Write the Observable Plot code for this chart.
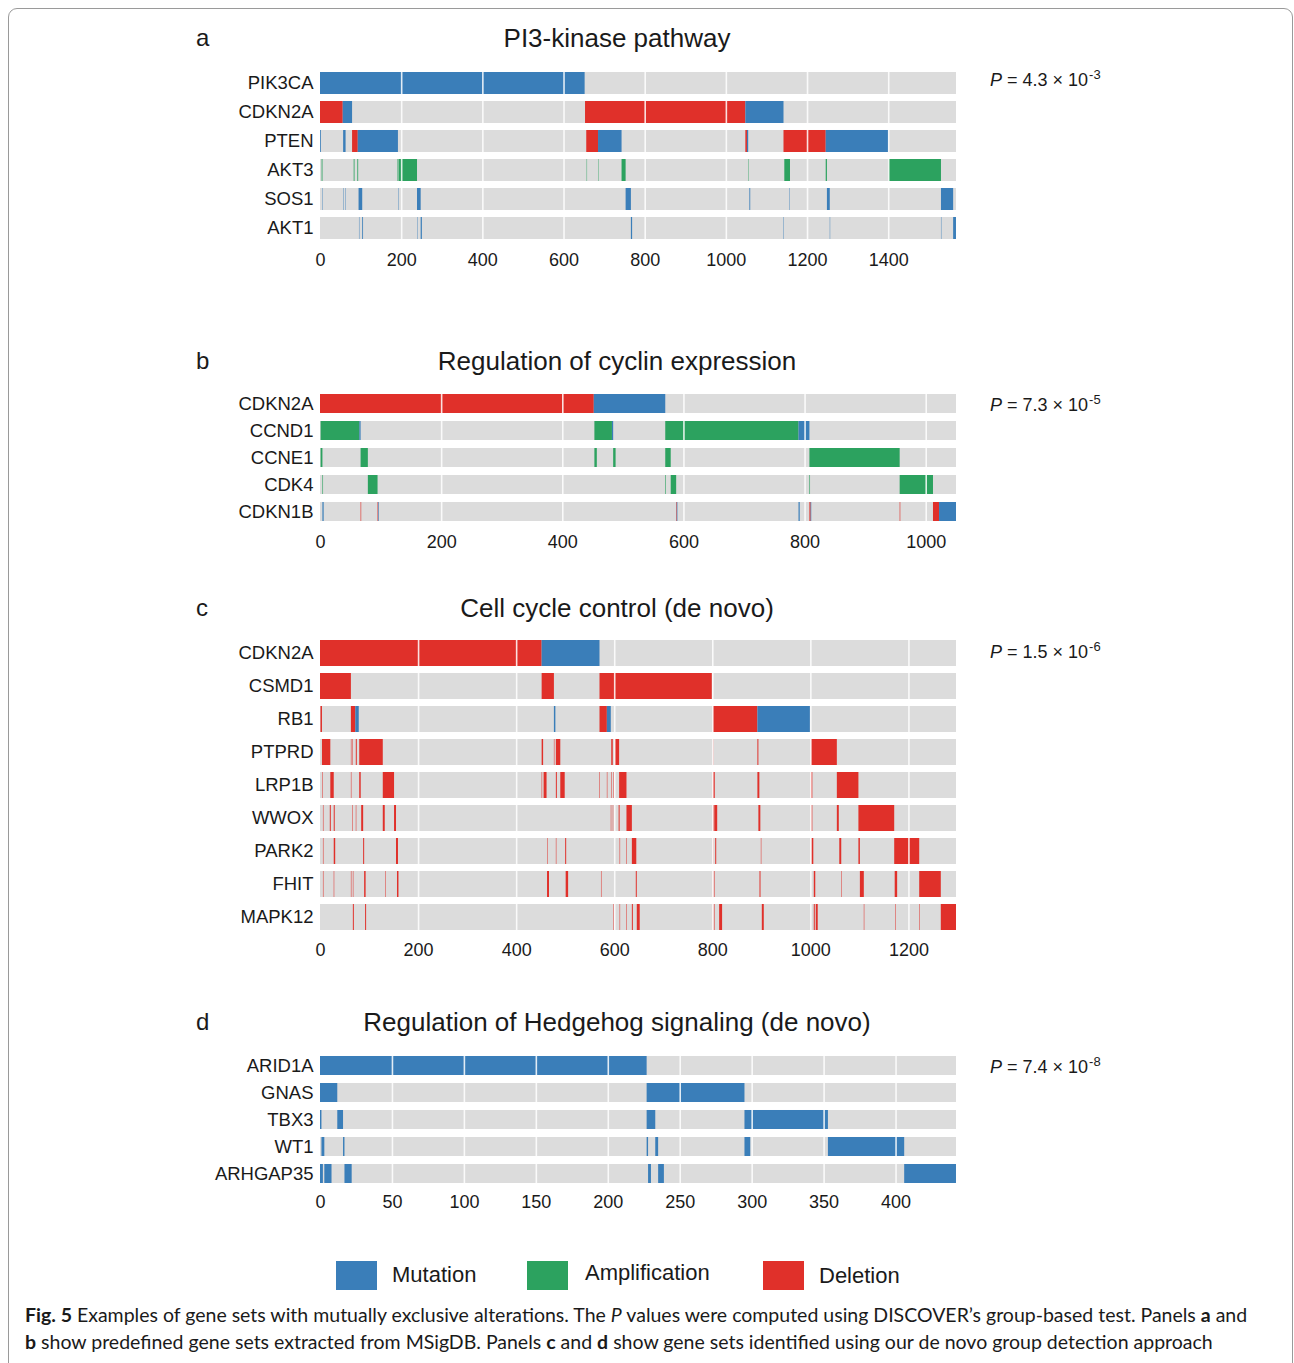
<!DOCTYPE html>
<html>
<head>
<meta charset="utf-8">
<script src="https://cdn.jsdelivr.net/npm/d3@7"></script>
<script src="https://cdn.jsdelivr.net/npm/@observablehq/plot@0.6"></script>
<style>
  html, body { margin: 0; padding: 0; background: #fff; }
  #fig { position: relative; width: 1294px; height: 1363px; overflow: hidden;
         font-family: "Liberation Sans", Arial, Helvetica, sans-serif; color: #1a1a1a; }
  .frame { position: absolute; left: 8px; top: 8px; width: 1285px; height: 1420px;
           border: 1.2px solid #9a9a9a; border-radius: 9px; box-sizing: border-box; }
  .abs { position: absolute; white-space: nowrap; line-height: 1; }
  .letter { font-size: 24px; }
  .title { font-size: 26px; transform: translateX(-50%); }
  .pval { font-size: 18px; }
  .pval sup { font-size: 13px; position: relative; top: -3px; vertical-align: top; margin-left: 1px; }
  .panel { position: absolute; left: 0; }
  .swatch { position: absolute; width: 41px; height: 29px; }
  .legtext { font-size: 22px; }
  .caption { position: absolute; left: 25px; font-family: Lato, "Open Sans", sans-serif; font-size: 19.5px;
             line-height: 27px; white-space: nowrap; color: #1a1a1a; }
</style>
</head>
<body>
<div id="fig"><div class="frame"></div></div>
<script>
// ---------- data ----------
const typeNames = { M: "Mutation", A: "Amplification", D: "Deletion" };
const legendTypes = ["Mutation", "Amplification", "Deletion"];
const typeColors = ["#3a7eb9", "#2ca25f", "#e0302a"];

// Panel a
const genesA = ["PIK3CA", "CDKN2A", "PTEN", "AKT3", "SOS1", "AKT1"];
const samplesA = 1567;
const ticksA = [0, 200, 400, 600, 800, 1000, 1200, 1400];
const segmentsA = [
  ["PIK3CA", 0, 652, "M"],
  ["CDKN2A", 0, 56, "D"], ["CDKN2A", 56, 79, "M"], ["CDKN2A", 653, 1048, "D"], ["CDKN2A", 1048, 1142, "M"],
  ["PTEN", 0, 2, "M"], ["PTEN", 57, 63, "M"], ["PTEN", 79, 93, "D"], ["PTEN", 93, 192, "M"],
  ["PTEN", 656, 685, "D"], ["PTEN", 685, 743, "M"], ["PTEN", 1048, 1052, "D"], ["PTEN", 1052, 1055, "M"],
  ["PTEN", 1142, 1246, "D"], ["PTEN", 1246, 1400, "M"],
  ["AKT3", 4, 6, "A"], ["AKT3", 83, 85, "A"], ["AKT3", 92, 94, "A"], ["AKT3", 191, 193, "A"], ["AKT3", 194, 239, "A"],
  ["AKT3", 657, 658, "A"], ["AKT3", 685, 686, "A"], ["AKT3", 743, 753, "A"], ["AKT3", 1056, 1057, "A"],
  ["AKT3", 1144, 1158, "A"], ["AKT3", 1246, 1249, "A"], ["AKT3", 1401, 1530, "A"],
  ["SOS1", 6, 7, "M"], ["SOS1", 57, 58, "M"], ["SOS1", 62, 63, "M"], ["SOS1", 95, 104, "M"], ["SOS1", 193, 194, "M"],
  ["SOS1", 239, 248, "M"], ["SOS1", 753, 766, "M"], ["SOS1", 1058, 1060, "M"], ["SOS1", 1157, 1158, "M"],
  ["SOS1", 1249, 1256, "M"], ["SOS1", 1530, 1560, "M"],
  ["AKT1", 96, 97, "M"], ["AKT1", 104, 106, "M"], ["AKT1", 240, 241, "M"], ["AKT1", 248, 251, "M"],
  ["AKT1", 766, 769, "M"], ["AKT1", 1142, 1143, "M"], ["AKT1", 1256, 1257, "M"], ["AKT1", 1530, 1531, "M"],
  ["AKT1", 1560, 1567, "M"]
];

// Panel b
const genesB = ["CDKN2A", "CCND1", "CCNE1", "CDK4", "CDKN1B"];
const samplesB = 1050;
const ticksB = [0, 200, 400, 600, 800, 1000];
const segmentsB = [
  ["CDKN2A", 0, 452, "D"], ["CDKN2A", 452, 570, "M"],
  ["CCND1", 1, 65, "A"], ["CCND1", 65, 67, "M"], ["CCND1", 453, 482, "A"], ["CCND1", 482, 484, "M"],
  ["CCND1", 570, 790, "A"], ["CCND1", 790, 808, "M"],
  ["CCNE1", 1, 4, "A"], ["CCNE1", 67, 79, "A"], ["CCNE1", 453, 457, "A"], ["CCNE1", 484, 488, "A"],
  ["CCNE1", 570, 579, "A"], ["CCNE1", 808, 957, "A"],
  ["CDK4", 4, 5, "A"], ["CDK4", 79, 95, "A"], ["CDK4", 570, 571, "A"], ["CDK4", 579, 588, "A"],
  ["CDK4", 808, 809, "A"], ["CDK4", 957, 1012, "A"],
  ["CDKN1B", 4, 6, "M"], ["CDKN1B", 67, 68, "D"], ["CDKN1B", 95, 96, "D"], ["CDKN1B", 96, 97, "M"],
  ["CDKN1B", 588, 589, "D"], ["CDKN1B", 589, 590, "M"], ["CDKN1B", 790, 792, "M"], ["CDKN1B", 808, 810, "D"],
  ["CDKN1B", 810, 811, "M"], ["CDKN1B", 957, 958, "D"], ["CDKN1B", 1012, 1022, "D"], ["CDKN1B", 1022, 1050, "M"]
];

// Panel c
const genesC = ["CDKN2A", "CSMD1", "RB1", "PTPRD", "LRP1B", "WWOX", "PARK2", "FHIT", "MAPK12"];
const samplesC = 1297;
const ticksC = [0, 200, 400, 600, 800, 1000, 1200];
const segmentsC = [
  ["CDKN2A", 0, 452, "D"], ["CDKN2A", 452, 570, "M"],
  ["CSMD1", 0, 63, "D"], ["CSMD1", 452, 477, "D"], ["CSMD1", 570, 799, "D"],
  ["RB1", 1, 4, "D"], ["RB1", 63, 72, "D"], ["RB1", 72, 79, "M"], ["RB1", 477, 480, "M"], ["RB1", 570, 585, "D"],
  ["RB1", 585, 593, "M"], ["RB1", 801, 892, "D"], ["RB1", 892, 999, "M"],
  ["PTPRD", 4, 21, "D"], ["PTPRD", 63, 64, "D"], ["PTPRD", 66, 67, "D"], ["PTPRD", 73, 75, "D"], ["PTPRD", 80, 128, "D"],
  ["PTPRD", 452, 455, "D"], ["PTPRD", 477, 478, "D"], ["PTPRD", 481, 490, "D"], ["PTPRD", 594, 597, "D"],
  ["PTPRD", 601, 610, "D"], ["PTPRD", 801, 802, "D"], ["PTPRD", 892, 894, "D"], ["PTPRD", 1001, 1054, "D"],
  ["LRP1B", 5, 6, "D"], ["LRP1B", 21, 28, "D"], ["LRP1B", 63, 64, "D"], ["LRP1B", 80, 83, "D"], ["LRP1B", 128, 151, "D"],
  ["LRP1B", 452, 453, "D"], ["LRP1B", 456, 462, "D"], ["LRP1B", 481, 483, "D"], ["LRP1B", 490, 499, "D"],
  ["LRP1B", 570, 571, "D"], ["LRP1B", 585, 586, "D"], ["LRP1B", 594, 595, "D"], ["LRP1B", 598, 599, "D"],
  ["LRP1B", 610, 625, "D"], ["LRP1B", 801, 805, "D"], ["LRP1B", 892, 896, "D"], ["LRP1B", 1001, 1004, "D"],
  ["LRP1B", 1054, 1098, "D"],
  ["WWOX", 6, 7, "D"], ["WWOX", 20, 22, "D"], ["WWOX", 28, 30, "D"], ["WWOX", 66, 67, "D"], ["WWOX", 73, 74, "D"],
  ["WWOX", 84, 88, "D"], ["WWOX", 128, 132, "D"], ["WWOX", 151, 155, "D"], ["WWOX", 593, 594, "D"],
  ["WWOX", 597, 598, "D"], ["WWOX", 609, 611, "D"], ["WWOX", 625, 636, "D"], ["WWOX", 801, 803, "D"],
  ["WWOX", 804, 810, "D"], ["WWOX", 894, 898, "D"], ["WWOX", 1002, 1004, "D"], ["WWOX", 1054, 1058, "D"],
  ["WWOX", 1098, 1171, "D"],
  ["PARK2", 6, 7, "D"], ["PARK2", 28, 31, "D"], ["PARK2", 88, 90, "D"], ["PARK2", 155, 159, "D"], ["PARK2", 463, 464, "D"],
  ["PARK2", 481, 482, "D"], ["PARK2", 500, 502, "D"], ["PARK2", 611, 612, "D"], ["PARK2", 625, 626, "D"],
  ["PARK2", 636, 645, "D"], ["PARK2", 801, 802, "D"], ["PARK2", 806, 808, "D"], ["PARK2", 899, 900, "D"],
  ["PARK2", 1002, 1006, "D"], ["PARK2", 1059, 1063, "D"], ["PARK2", 1098, 1101, "D"], ["PARK2", 1171, 1222, "D"],
  ["FHIT", 6, 7, "D"], ["FHIT", 28, 29, "D"], ["FHIT", 63, 64, "D"], ["FHIT", 67, 68, "D"], ["FHIT", 90, 93, "D"],
  ["FHIT", 133, 134, "D"], ["FHIT", 157, 160, "D"], ["FHIT", 463, 467, "D"], ["FHIT", 501, 506, "D"],
  ["FHIT", 573, 574, "D"], ["FHIT", 644, 646, "D"], ["FHIT", 801, 802, "D"], ["FHIT", 804, 805, "D"],
  ["FHIT", 896, 897, "D"], ["FHIT", 898, 899, "D"], ["FHIT", 1007, 1010, "D"], ["FHIT", 1063, 1064, "D"],
  ["FHIT", 1101, 1109, "D"], ["FHIT", 1172, 1177, "D"], ["FHIT", 1222, 1266, "D"],
  ["MAPK12", 67, 69, "D"], ["MAPK12", 92, 94, "D"], ["MAPK12", 598, 599, "D"], ["MAPK12", 611, 612, "D"],
  ["MAPK12", 625, 626, "D"], ["MAPK12", 636, 638, "D"], ["MAPK12", 646, 652, "D"], ["MAPK12", 801, 802, "D"],
  ["MAPK12", 804, 805, "D"], ["MAPK12", 814, 820, "D"], ["MAPK12", 901, 905, "D"], ["MAPK12", 1007, 1009, "D"],
  ["MAPK12", 1011, 1015, "D"], ["MAPK12", 1109, 1110, "D"], ["MAPK12", 1173, 1174, "D"], ["MAPK12", 1222, 1223, "D"],
  ["MAPK12", 1266, 1297, "D"]
];

// Panel d
const genesD = ["ARID1A", "GNAS", "TBX3", "WT1", "ARHGAP35"];
const samplesD = 442;
const ticksD = [0, 50, 100, 150, 200, 250, 300, 350, 400];
const segmentsD = [
  ["ARID1A", 0, 227, "M"],
  ["GNAS", 0, 12, "M"], ["GNAS", 227, 295, "M"],
  ["TBX3", 0, 1, "M"], ["TBX3", 12, 16, "M"], ["TBX3", 227, 233, "M"], ["TBX3", 295, 353, "M"],
  ["WT1", 1, 3, "M"], ["WT1", 16, 17, "M"], ["WT1", 227, 228, "M"], ["WT1", 233, 235, "M"], ["WT1", 295, 299, "M"],
  ["WT1", 353, 406, "M"],
  ["ARHGAP35", 0, 2, "M"], ["ARHGAP35", 3, 8, "M"], ["ARHGAP35", 17, 22, "M"], ["ARHGAP35", 228, 230, "M"],
  ["ARHGAP35", 235, 239, "M"], ["ARHGAP35", 406, 442, "M"]
];

const panelLetters = ["a", "b", "c", "d"];
const panelTitles = ["PI3-kinase pathway", "Regulation of cyclin expression", "Cell cycle control (de novo)",
                     "Regulation of Hedgehog signaling (de novo)"];
const pMantissa = ["4.3", "7.3", "1.5", "7.4"];
const pExponent = ["-3", "-5", "-6", "-8"];

// ---------- layout ----------
const layout = [
  { genes: genesA, segs: segmentsA, n: samplesA, ticks: ticksA, r0: 68.2, r1: 243.6, pad: 0.24, labelY: 259, titleY: 38, pY: 80 },
  { genes: genesB, segs: segmentsB, n: samplesB, ticks: ticksB, r0: 390.0, r1: 525.0, pad: 0.28, labelY: 541, titleY: 361, pY: 405 },
  { genes: genesC, segs: segmentsC, n: samplesC, ticks: ticksC, r0: 636.0, r1: 933.6, pad: 0.22, labelY: 949, titleY: 608, pY: 652 },
  { genes: genesD, segs: segmentsD, n: samplesD, ticks: ticksD, r0: 1052.3, r1: 1187.4, pad: 0.28, labelY: 1202, titleY: 1022, pY: 1067 }
];

const fig = document.getElementById("fig");
function addDiv(cls, left, top, html) {
  const d = document.createElement("div");
  d.className = cls;
  d.style.left = left + "px";
  d.style.top = top + "px";
  d.innerHTML = html;
  fig.appendChild(d);
  return d;
}

layout.forEach((p, i) => {
  const svgTop = p.r0 - 20;
  const height = (p.r1 - svgTop) + 40;
  const rows = p.segs.map(([gene, start, end, code]) => ({ gene, start, end, type: typeNames[code] }));
  const bg = p.genes.map(g => ({ gene: g, start: 0, end: p.n }));
  const chart = Plot.plot({
    width: 1000,
    height,
    marginLeft: 320,
    marginRight: 44,
    marginTop: p.r0 - svgTop,
    marginBottom: height - (p.r1 - svgTop),
    style: { fontFamily: '"Liberation Sans", Arial, sans-serif', color: "#1a1a1a", background: "transparent", overflow: "visible" },
    x: { domain: [0, p.n] },
    y: { domain: p.genes, paddingInner: p.pad, paddingOuter: p.pad / 2 },
    color: { domain: legendTypes, range: typeColors },
    marks: [
      Plot.barX(bg, { x1: "start", x2: "end", y: "gene", fill: "#dcdcdc" }),
      Plot.barX(rows, { x1: "start", x2: "end", y: "gene", fill: "type" }),
      Plot.ruleX(p.ticks.filter(t => t > 0), { stroke: "#ffffff", strokeWidth: 1.6, strokeOpacity: 0.85 }),
      Plot.axisY({ tickSize: 0, tickPadding: 7, fontSize: 18.5, label: null }),
      Plot.axisX({ ticks: p.ticks, tickSize: 0, tickPadding: p.labelY - 6.5 - p.r1, fontSize: 18, label: null, tickFormat: d => String(d) })
    ]
  });
  const wrap = document.createElement("div");
  wrap.className = "panel";
  wrap.style.top = svgTop + "px";
  wrap.appendChild(chart);
  fig.appendChild(wrap);

  addDiv("abs letter", 196, p.titleY - 12, panelLetters[i]);
  addDiv("abs title", 617, p.titleY - 13, panelTitles[i]);
  addDiv("abs pval", 990, p.pY - 9, `<i>P</i> = ${pMantissa[i]} × 10<sup>${pExponent[i]}</sup>`);
});

// legend
const legendX = [336, 527, 763];
const legendTextX = [392, 585, 819];
const legendTextY = [1275, 1273, 1276];
legendTypes.forEach((t, i) => {
  const s = addDiv("swatch", legendX[i], 1261, "");
  s.style.background = typeColors[i];
  addDiv("abs legtext", legendTextX[i], legendTextY[i] - 11, t);
});

// caption
addDiv("caption", 25, 1301,
  '<b>Fig. 5</b> Examples of gene sets with mutually exclusive alterations. The <i>P</i> values were computed using DISCOVER’s group-based test. Panels <b>a</b> and<br>' +
  '<b>b</b> show predefined gene sets extracted from MSigDB. Panels <b>c</b> and <b>d</b> show gene sets identified using our de novo group detection approach');
</script>
</body>
</html>
